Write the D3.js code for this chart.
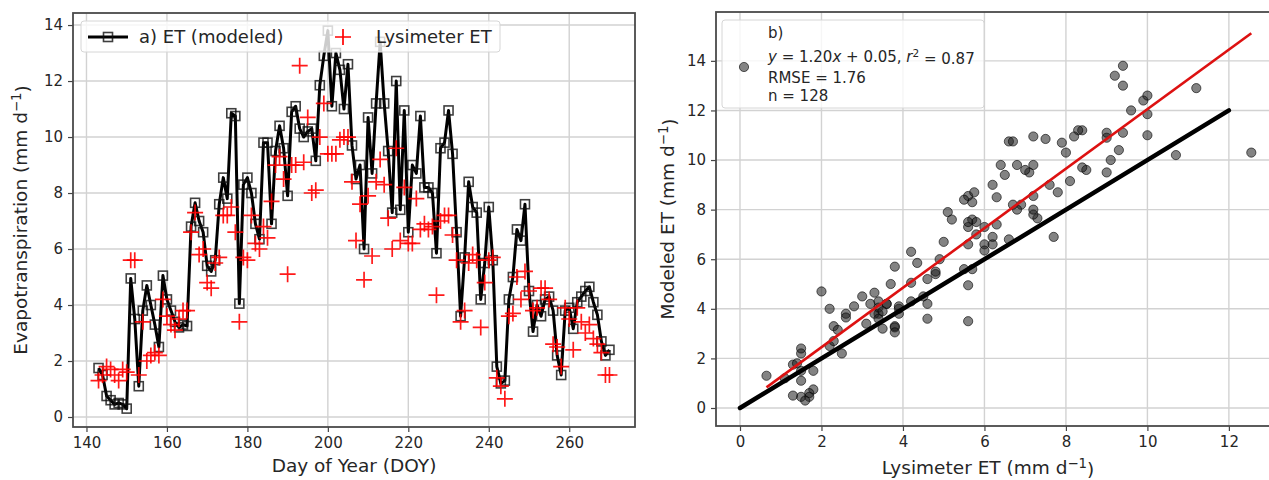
<!DOCTYPE html>
<html><head><meta charset="utf-8">
<script src="https://cdn.jsdelivr.net/npm/d3@7"></script>
<style>body{margin:0;background:#fff} svg{display:block} text{font-family:"DejaVu Sans",sans-serif;fill:#262626}</style>
</head><body><svg id="c" width="1269" height="480"></svg>
<script>
// ---------- DATA ----------
const doy = [143,144,145,146,147,148,149,150,151,152,
  153,154,155,156,157,158,159,160,161,162,
  163,164,165,166,167,168,169,170,171,172,
  173,174,175,176,177,178,179,180,181,182,
  183,184,185,186,187,188,189,190,191,192,
  193,194,195,196,197,198,199,200,201,202,
  203,204,205,206,207,208,209,210,211,212,
  213,214,215,216,217,218,219,220,221,222,
  223,224,225,226,227,228,229,230,231,232,
  233,234,235,236,237,238,239,240,241,242,
  243,244,245,246,247,248,249,250,251,252,
  253,254,255,256,257,258,259,260,261,262,
  263,264,265,266,267,268,269,270];
const etModeled = [1.75,1.5,0.75,0.6,0.45,0.5,0.45,0.3,4.95,3.5,
  1.1,3.8,4.7,4.0,3.3,2.5,5.05,4.2,3.8,3.4,
  3.2,3.3,3.25,6.8,7.65,7.0,6.6,5.4,5.2,5.6,
  7.6,8.55,7.8,10.85,10.75,4.05,8.3,8.55,8.0,6.9,
  6.35,9.8,9.8,6.9,9.5,10.4,9.6,7.9,10.9,11.1,
  10.3,10.0,10.2,10.3,9.15,11.85,12.9,13.8,11.1,13.0,
  12.4,11.0,12.6,9.7,8.5,9.0,6.0,10.7,8.7,11.2,
  13.4,11.2,9.5,7.3,12.0,7.4,10.95,6.6,9.0,8.7,
  10.75,8.2,8.2,8.0,5.85,9.6,9.8,10.95,9.4,6.6,
  3.6,5.7,8.4,7.5,7.3,4.2,5.5,7.5,5.6,1.8,
  1.2,1.3,4.2,5.0,6.7,6.3,7.6,4.5,3.05,4.0,
  3.6,4.2,4.3,3.8,2.2,1.5,3.8,3.9,3.15,4.1,
  4.3,4.5,4.65,4.1,3.65,2.7,2.2,2.4];
const etLysimeter = [1.3,1.5,1.8,1.7,1.5,1.3,1.7,1.6,5.6,5.6,
  1.5,3.4,2.0,2.2,2.3,2.2,4.2,3.6,3.3,3.1,
  3.5,3.8,3.8,6.6,7.3,5.8,6.0,4.8,4.6,5.5,
  5.7,7.2,7.2,7.5,6.6,3.4,5.7,5.6,7.2,6.2,
  6.0,6.8,6.4,7.7,9.0,9.3,8.5,5.1,9.0,9.0,
  12.55,9.1,10.7,8.0,8.1,10.0,11.2,9.4,9.4,9.4,
  9.9,10.0,10.0,8.4,6.3,7.6,4.9,7.9,5.75,8.4,
  9.2,8.3,7.1,6.0,9.6,6.3,8.2,6.2,6.2,7.8,
  6.7,6.9,6.7,6.8,4.35,7.0,7.2,7.2,6.5,5.6,
  3.4,3.8,5.5,5.8,5.6,3.2,4.8,5.6,5.7,1.4,
  1.1,0.65,3.6,3.7,5.0,4.2,5.2,4.5,3.8,3.9,
  4.6,4.6,4.2,2.6,2.5,1.8,3.9,3.5,2.4,3.9,
  3.4,3.0,3.3,2.8,2.6,2.3,1.5,1.5];
const xTicksA = [140,160,180,200,220,240,260];
const yTicksA = [0,2,4,6,8,10,12,14];
const xTicksB = [0,2,4,6,8,10,12];
const yTicksB = [0,2,4,6,8,10,12,14];
const fitSlope = 1.20, fitIntercept = 0.05;
const statLines = ["b)", "EQ", "RMSE = 1.76", "n = 128"];
const legendA = ["a) ET (modeled)", "Lysimeter ET"];

// ---------- LAYOUT ----------
const svg = d3.select("#c");
const PA = {x0:73, x1:635, y0:427, y1:13};
const PB = {x0:716, x1:1279, y0:426, y1:12};
const xA = d3.scaleLinear().domain([136.65,276.35]).range([PA.x0,PA.x1]);
const yA = d3.scaleLinear().domain([-0.357,14.43]).range([PA.y0,PA.y1]);
const xB = d3.scaleLinear().domain([-0.589,13.23]).range([PB.x0,PB.x1]);
const yB = d3.scaleLinear().domain([-0.726,15.97]).range([PB.y0,PB.y1]);

function panel(P, x, y, xt, yt){
  const g = svg.append("g");
  g.selectAll(".gx").data(xt).join("line")
    .attr("x1",d=>x(d)).attr("x2",d=>x(d)).attr("y1",P.y0).attr("y2",P.y1)
    .attr("stroke","#d2d2d2").attr("stroke-width",1.4);
  g.selectAll(".gy").data(yt).join("line")
    .attr("y1",d=>y(d)).attr("y2",d=>y(d)).attr("x1",P.x0).attr("x2",P.x1)
    .attr("stroke","#d2d2d2").attr("stroke-width",1.4);
  const ax = g.append("g").attr("transform",`translate(0,${P.y0})`)
    .call(d3.axisBottom(x).tickValues(xt).tickSize(5).tickPadding(5).tickFormat(d3.format("d")));
  const ay = g.append("g").attr("transform",`translate(${P.x0},0)`)
    .call(d3.axisLeft(y).tickValues(yt).tickSize(5).tickPadding(5).tickFormat(d3.format("d")));
  [ax,ay].forEach(a=>{
    a.select(".domain").remove();
    a.selectAll("line").attr("stroke","#444").attr("stroke-width",1.2);
    a.selectAll("text").attr("font-size",15).attr("fill","#2a2a2a")
      .style("font-family","'DejaVu Sans',sans-serif");
  });
  return g;
}
function frame(P){
  svg.append("rect").attr("x",P.x0).attr("y",P.y1).attr("width",P.x1-P.x0).attr("height",P.y0-P.y1)
    .attr("fill","none").attr("stroke","#4a4a4a").attr("stroke-width",1.8);
}
function unitLabel(sel, base){
  sel.text(base + " (mm d");
  sel.append("tspan").attr("dy","-0.45em").attr("font-size","0.72em").text("\u22121");
  sel.append("tspan").attr("dy","0.45em").text(")");
}

// ---------- PANEL A ----------
panel(PA, xA, yA, xTicksA, yTicksA);
const ptsA = doy.map((d,i)=>({d, m:etModeled[i], l:etLysimeter[i]}));
svg.append("path").datum(ptsA)
  .attr("d", d3.line().x(p=>xA(p.d)).y(p=>yA(p.m)))
  .attr("fill","none").attr("stroke","#000").attr("stroke-width",3).attr("stroke-linejoin","round");
const sq = 9;
svg.append("g").selectAll("rect").data(ptsA).join("rect")
  .attr("x",p=>xA(p.d)-sq/2).attr("y",p=>yA(p.m)-sq/2).attr("width",sq).attr("height",sq)
  .attr("fill","none").attr("stroke","rgba(15,15,15,0.8)").attr("stroke-width",1.6);
const plus = 8;
const plusPath = (cx,cy)=>`M${cx-plus},${cy}H${cx+plus}M${cx},${cy-plus}V${cy+plus}`;
svg.append("g").selectAll("path").data(ptsA).join("path")
  .attr("d",p=>plusPath(xA(p.d),yA(p.l)))
  .attr("stroke","rgba(255,0,0,0.9)").attr("stroke-width",1.7).attr("fill","none");
frame(PA);

// legend A
const lgA = svg.append("g");
lgA.append("rect").attr("x",81).attr("y",21).attr("width",419).attr("height",31).attr("rx",3)
  .attr("fill","rgba(255,255,255,0.8)").attr("stroke","#d6d6d6");
lgA.append("line").attr("x1",88).attr("x2",128).attr("y1",37).attr("y2",37)
  .attr("stroke","#000").attr("stroke-width",3);
lgA.append("rect").attr("x",108-sq/2).attr("y",37-sq/2).attr("width",sq).attr("height",sq)
  .attr("fill","none").attr("stroke","rgba(15,15,15,0.8)").attr("stroke-width",1.6);
lgA.append("text").attr("x",139).attr("y",43).attr("font-size",18).text(legendA[0]);
lgA.append("path").attr("d",plusPath(343,37)).attr("stroke","red").attr("stroke-width",1.7);
lgA.append("text").attr("x",376).attr("y",43).attr("font-size",18).text(legendA[1]);

// axis labels A
svg.append("text").attr("x",354).attr("y",472).attr("text-anchor","middle").attr("font-size",18.5)
  .text("Day of Year (DOY)");
unitLabel(svg.append("text").attr("transform","translate(27,220) rotate(-90)")
  .attr("text-anchor","middle").attr("font-size",18.5), "Evapotranspiration");

// ---------- PANEL B ----------
panel(PB, xB, yB, xTicksB, yTicksB);
svg.append("g").selectAll("circle").data(ptsA).join("circle")
  .attr("cx",p=>xB(p.l)).attr("cy",p=>yB(p.m)).attr("r",4.6)
  .attr("fill","rgba(30,30,30,0.55)").attr("stroke","rgba(0,0,0,0.6)").attr("stroke-width",1);
svg.append("line").attr("x1",xB(0)).attr("y1",yB(0)).attr("x2",xB(12)).attr("y2",yB(12))
  .attr("stroke","#000").attr("stroke-width",4.5).attr("stroke-linecap","round");
const lmin = d3.min(etLysimeter), lmax = d3.max(etLysimeter);
svg.append("line").attr("x1",xB(lmin)).attr("y1",yB(fitSlope*lmin+fitIntercept))
  .attr("x2",xB(lmax)).attr("y2",yB(fitSlope*lmax+fitIntercept))
  .attr("stroke","#dd1111").attr("stroke-width",2.6);
frame(PB);

// legend B
const lgB = svg.append("g");
lgB.append("rect").attr("x",722).attr("y",20).attr("width",262).attr("height",88).attr("rx",3)
  .attr("fill","rgba(255,255,255,0.8)").attr("stroke","#d6d6d6");
lgB.append("circle").attr("cx",744).attr("cy",67).attr("r",4.6)
  .attr("fill","rgba(30,30,30,0.55)").attr("stroke","rgba(0,0,0,0.6)");
const by = [38,62,83,101];
statLines.forEach((s,i)=>{
  const t = lgB.append("text").attr("x",768).attr("y",by[i]).attr("font-size",15);
  if(s==="EQ"){
    t.append("tspan").attr("font-style","italic").text("y");
    t.append("tspan").text(" = " + fitSlope.toFixed(2));
    t.append("tspan").attr("font-style","italic").text("x");
    t.append("tspan").text(" + " + fitIntercept.toFixed(2) + ", ");
    t.append("tspan").attr("font-style","italic").text("r");
    t.append("tspan").attr("dy","-0.45em").attr("font-size","0.7em").text("2");
    t.append("tspan").attr("dy","0.45em").text(" = 0.87");
  } else t.text(s);
});

// axis labels B
unitLabel(svg.append("text").attr("x",988).attr("y",474).attr("text-anchor","middle").attr("font-size",18.5),
  "Lysimeter ET");
unitLabel(svg.append("text").attr("transform","translate(674,219) rotate(-90)")
  .attr("text-anchor","middle").attr("font-size",18.5), "Modeled ET");
</script></body></html>
